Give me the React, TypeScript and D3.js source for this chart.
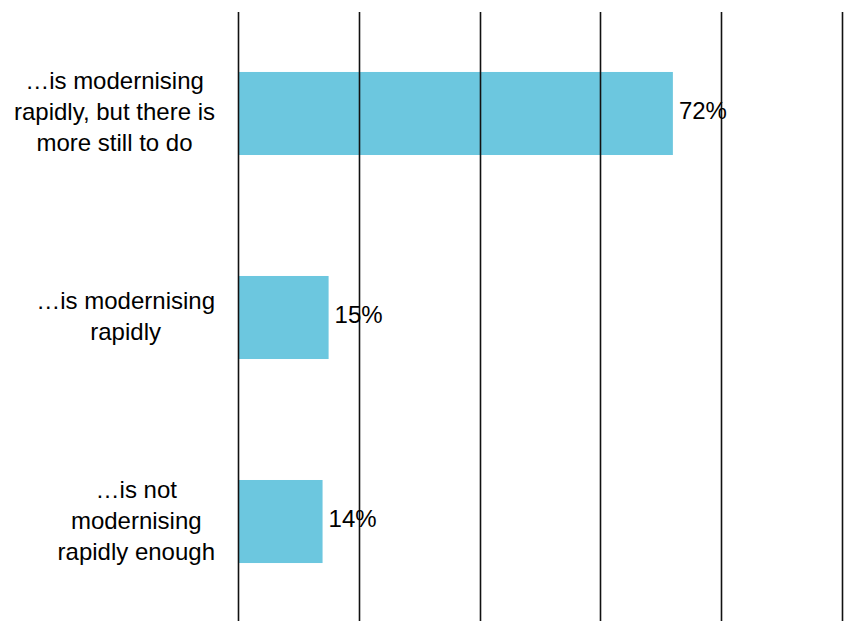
import React, { useEffect, useRef } from "react";
import * as d3 from "d3";

const categories: string[][] = [
  ["…is modernising", "rapidly, but there is", "more still to do"],
  ["…is modernising", "rapidly"],
  ["…is not", "modernising", "rapidly enough"],
];
const values: number[] = [72, 15, 14];
const valueLabels: string[] = ["72%", "15%", "14%"];
const gridTicks: number[] = [0, 20, 40, 60, 80, 100];

const W = 846;
const H = 621;

export default function App() {
  const ref = useRef<SVGSVGElement | null>(null);

  useEffect(() => {
    const svg = d3.select(ref.current);
    svg.selectAll("*").remove();

    const x = d3.scaleLinear().domain([0, 100]).range([238, 842]);
    const y = d3
      .scaleBand<number>()
      .domain(values.map((_, i) => i))
      .range([12, 623])
      .paddingInner(0.593)
      .paddingOuter(0.294);

    const font = "'Liberation Sans', Arial, sans-serif";

    // bars
    svg
      .append("g")
      .selectAll("rect")
      .data(values)
      .join("rect")
      .attr("x", x(0))
      .attr("y", (_, i) => y(i)!)
      .attr("width", (d) => x(d) - x(0))
      .attr("height", y.bandwidth())
      .attr("fill", "#6cc7df");

    // gridlines
    svg
      .append("g")
      .selectAll("line")
      .data(gridTicks)
      .join("line")
      .attr("x1", (d) => Math.round(x(d)) + 0.5)
      .attr("x2", (d) => Math.round(x(d)) + 0.5)
      .attr("y1", 12)
      .attr("y2", H)
      .attr("stroke", "#111")
      .attr("stroke-width", 1.6);

    // value labels
    svg
      .append("g")
      .selectAll("text")
      .data(values)
      .join("text")
      .attr("x", (d) => x(d) + 6)
      .attr("y", (_, i) => y(i)! + y.bandwidth() / 2 + 5.5)
      .attr("font-family", font)
      .attr("font-size", 24)
      .attr("fill", "#000")
      .text((_, i) => valueLabels[i]);

    // category labels
    const rightEdge = 215;
    const lineH = 31;
    categories.forEach((lines, i) => {
      const cy = y(i)! + y.bandwidth() / 2;
      const g = svg.append("g");
      const texts = g
        .selectAll("text")
        .data(lines)
        .join("text")
        .attr("font-family", font)
        .attr("font-size", 24)
        .attr("fill", "#000")
        .attr("text-anchor", "middle")
        .attr("y", (_, j) => cy + 7 + (j - (lines.length - 1) / 2) * lineH)
        .text((d) => d);
      let maxW = 0;
      texts.each(function () {
        const w = (this as SVGTextElement).getComputedTextLength();
        if (w > maxW) maxW = w;
      });
      texts.attr("x", rightEdge - maxW / 2);
    });
  }, []);

  return (
    <svg
      ref={ref}
      width={W}
      height={H}
      style={{ position: "absolute", left: 0, top: 0, background: "#fff" }}
    />
  );
}
